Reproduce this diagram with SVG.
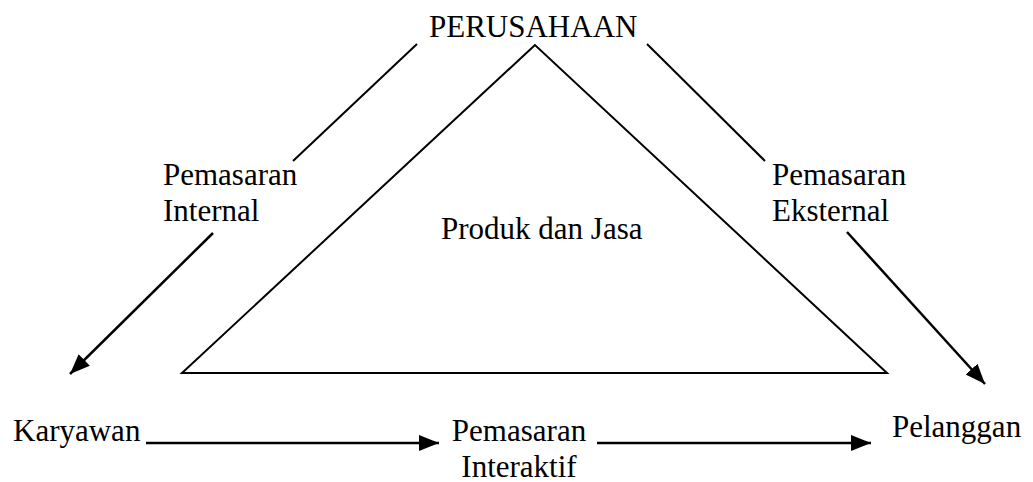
<svg xmlns="http://www.w3.org/2000/svg" width="1033" height="482" viewBox="0 0 1033 482">
<style>
text{font-family:"Liberation Serif","Times New Roman",serif;font-size:31px;fill:#000}
.ln{stroke:#000;stroke-width:2;fill:none}
.ar{stroke:#000;stroke-width:2.5;fill:none;marker-end:url(#ah)}
</style>
<defs>
<marker id="ah" markerUnits="userSpaceOnUse" markerWidth="22" markerHeight="18" refX="20" refY="8" orient="auto">
<path d="M0,0 L20,8 L0,16 z" fill="#000"/>
</marker>
</defs>
<rect width="1033" height="482" fill="#fff"/>
<g id="triangle">
<polygon class="ln" points="535,45 182,373 887,373"/>
<text x="441" y="239">Produk dan Jasa</text>
</g>
<g id="perusahaan"><text x="429" y="37">PERUSAHAAN</text></g>
<g id="pemasaran-internal"><text x="163" y="185">Pemasaran</text><text x="163" y="221">Internal</text></g>
<g id="pemasaran-eksternal"><text x="772" y="185">Pemasaran</text><text x="772" y="221">Eksternal</text></g>
<g id="karyawan"><text x="13" y="441">Karyawan</text></g>
<g id="pemasaran-interaktif"><text x="519" y="441" text-anchor="middle">Pemasaran</text><text x="519" y="477" text-anchor="middle">Interaktif</text></g>
<g id="pelanggan"><text x="892" y="437">Pelanggan</text></g>
<g id="connectors">
<line class="ln" x1="417" y1="44" x2="293" y2="161"/>
<line class="ar" x1="213" y1="233" x2="70" y2="374"/>
<line class="ln" x1="647" y1="44" x2="765" y2="161"/>
<line class="ar" x1="847" y1="232" x2="985" y2="384"/>
<line class="ar" x1="146" y1="443" x2="439" y2="443"/>
<line class="ar" x1="597" y1="443" x2="871" y2="443"/>
</g>
</svg>
